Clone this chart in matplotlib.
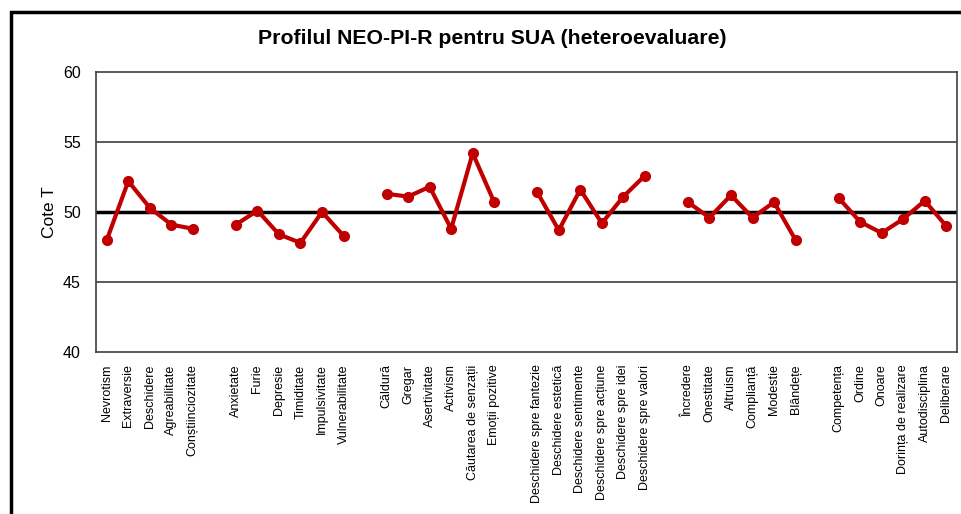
import matplotlib
matplotlib.use("Agg")
import matplotlib.pyplot as plt
from matplotlib.patches import Rectangle
import numpy as np

plt.rcParams['font.family'] = ['Liberation Sans', 'DejaVu Sans']

domains = ["Nevrotism", "Extraversie", "Deschidere", "Agreabilitate", "Conștiinciozitate"]
domain_vals = [48.0, 52.2, 50.3, 49.1, 48.8]

n_facets = ["Anxietate", "Furie", "Depresie", "Timiditate", "Impulsivitate", "Vulnerabilitate"]
n_vals = [49.1, 50.1, 48.4, 47.8, 50.0, 48.3]

e_facets = ["Căldură", "Gregar", "Asertivitate", "Activism", "Căutarea de senzații", "Emoții pozitive"]
e_vals = [51.3, 51.1, 51.8, 48.8, 54.2, 50.7]

o_facets = ["Deschidere spre fantezie", "Deschidere estetică", "Deschidere sentimente",
            "Deschidere spre acțiune", "Deschidere spre idei", "Deschidere spre valori"]
o_vals = [51.4, 48.7, 51.6, 49.2, 51.1, 52.6]

a_facets = ["Încredere", "Onestitate", "Altruism", "Complianță", "Modestie", "Blândețe"]
a_vals = [50.7, 49.6, 51.2, 49.6, 50.7, 48.0]

c_facets = ["Competența", "Ordine", "Onoare", "Dorința de realizare", "Autodisciplina", "Deliberare"]
c_vals = [51.0, 49.3, 48.5, 49.5, 50.8, 49.0]

groups = [(domains, domain_vals), (n_facets, n_vals), (e_facets, e_vals),
          (o_facets, o_vals), (a_facets, a_vals), (c_facets, c_vals)]

W, H = 961, 514
fig = plt.figure(figsize=(W / 100, H / 100), dpi=100)
ax = fig.add_axes([96 / W, 1 - 352 / H, (957 - 96) / W, (352 - 72) / H])

red = "#C00000"
labels_all = []
positions_all = []
pos = 0
for names, vals in groups:
    xs = np.arange(pos, pos + len(names))
    ax.plot(xs, vals, color=red, lw=3, marker='o', ms=7, solid_capstyle='round',
            solid_joinstyle='round', zorder=3)
    labels_all += names
    positions_all += list(xs)
    pos += len(names) + 1

ax.set_xlim(-0.5, pos - 1 - 0.5)
ax.set_ylim(40, 60)
ax.set_yticks([40, 45, 50, 55, 60])
ax.set_yticklabels(["40", "45", "50", "55", "60"], fontsize=11.5)
ax.tick_params(axis='y', length=0, pad=11)
ax.set_xticks(positions_all)
ax.set_xticklabels(labels_all, rotation=90, fontsize=9, ha='center', va='top')
ax.tick_params(axis='x', length=0, pad=9)

for yv in [45, 55]:
    ax.axhline(yv, color="#404040", lw=1.2, zorder=1)
ax.axhline(50, color="black", lw=2.5, zorder=2)

for s in ax.spines.values():
    s.set_color("#404040")
    s.set_linewidth(1.2)

ax.set_ylabel("Cote T", fontsize=12.5, labelpad=4)

fig.text(492 / W, 1 - 38 / H, "Profilul NEO-PI-R pentru SUA (heteroevaluare)",
         ha='center', va='center', fontsize=15.3, fontweight='bold')

frame = Rectangle((11 / W, -0.1), (975 - 11) / W, 1.1 - 12 / H,
                  transform=fig.transFigure, fill=False, edgecolor='black', lw=2.5)
fig.patches.append(frame)

fig.savefig("out.png", dpi=100)
